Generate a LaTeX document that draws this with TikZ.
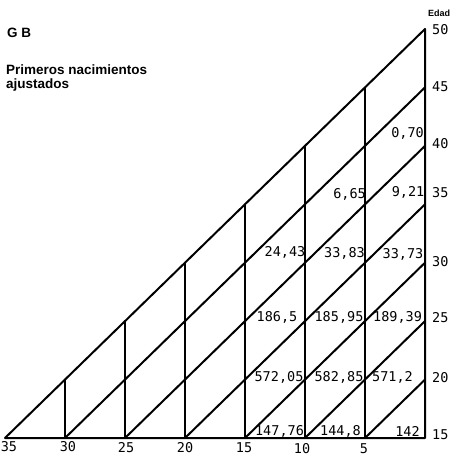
\documentclass[tikz,border=0pt]{standalone}
\usepackage{fontspec}
\setmainfont{Liberation Sans}
\newfontfamily\numfont{DejaVu Sans Mono}
\begin{document}
\begin{tikzpicture}[x=1pt,y=-1pt,
  grid/.style={line width=2pt,line cap=round,line join=round},
  val/.style={font=\numfont\fontsize{13.5}{14}\selectfont,inner sep=0pt},
  axl/.style={font=\numfont\fontsize{13.5}{14}\selectfont,inner sep=0pt},
  title/.style={font=\bfseries\fontsize{13.5}{15}\selectfont,inner sep=0pt,anchor=west}]
\useasboundingbox (0,0) rectangle (460,457);
% bottom (year) points
\coordinate (b35) at (5,438);
\coordinate (b30) at (65,438);
\coordinate (b25) at (125,438);
\coordinate (b20) at (185,438);
\coordinate (b15) at (245,438);
\coordinate (b10) at (305,438);
\coordinate (b5) at (365,438);
\coordinate (b0) at (425,438);
% right (age) points
\coordinate (r20) at (425,379.6);
\coordinate (r25) at (425,321.1);
\coordinate (r30) at (425,262.7);
\coordinate (r35) at (425,204.3);
\coordinate (r40) at (425,145.9);
\coordinate (r45) at (425,87.4);
\coordinate (r50) at (425,29);
% tops of verticals on the main diagonal
\coordinate (t30) at (65,379.6);
\coordinate (t25) at (125,321.1);
\coordinate (t20) at (185,262.7);
\coordinate (t15) at (245,204.3);
\coordinate (t10) at (305,145.9);
\coordinate (t5) at (365,87.4);
% frame
\draw[grid] (b35) -- (b0) -- (r50) -- cycle;
% verticals
\foreach \k in {30,25,20,15,10,5} \draw[grid] (b\k) -- (t\k);
% diagonals
\draw[grid] (b30) -- (r45);
\draw[grid] (b25) -- (r40);
\draw[grid] (b20) -- (r35);
\draw[grid] (b15) -- (r30);
\draw[grid] (b10) -- (r25);
\draw[grid] (b5) -- (r20);
% titles
\node[title] (gb) at (7,33) {G B};
\node[title] (t1) at (6,70) {Primeros nacimientos};
\node[title] (t2) at (6,85.5) {ajustados};
\node[font=\bfseries\fontsize{9}{10}\selectfont,inner sep=0pt] (edad) at (439,13) {Edad};
% right axis
\node[axl,anchor=west] (a50) at (432,30) {50};
\node[axl,anchor=west] (a45) at (432,87) {45};
\node[axl,anchor=west] (a40) at (432,144) {40};
\node[axl,anchor=west] (a35) at (432,193) {35};
\node[axl,anchor=west] (a30) at (432,262) {30};
\node[axl,anchor=west] (a25) at (432,318) {25};
\node[axl,anchor=west] (a20) at (432,378) {20};
\node[axl,anchor=west] (a15) at (432,435) {15};
% bottom axis
\node[axl] (y35) at (9,447) {35};
\node[axl] (y30) at (68,447) {30};
\node[axl] (y25) at (126,448) {25};
\node[axl] (y20) at (185,448) {20};
\node[axl] (y15) at (244,448) {15};
\node[axl] (y10) at (302,449) {10};
\node[axl] (y5) at (364,449) {5};
% values
\node[val] (v1) at (285,252) {24,43};
\node[val] (v2) at (344.5,253) {33,83};
\node[val] (v3) at (403,254) {33,73};
\node[val] (v4) at (349.5,194) {6,65};
\node[val] (v5) at (408,192) {9,21};
\node[val] (v6) at (407.5,133) {0,70};
\node[val] (v7) at (277,317) {186,5};
\node[val] (v8) at (339,317) {185,95};
\node[val] (v9) at (397.5,317) {189,39};
\node[val] (v10) at (279,377) {572,05};
\node[val] (v11) at (339,377) {582,85};
\node[val] (v12) at (392.5,377) {571,2};
\node[val] (v13) at (279.5,431) {147,76};
\node[val] (v14) at (340.5,431) {144,8};
\node[val] (v15) at (407.5,431) {142};
\end{tikzpicture}
\end{document}
